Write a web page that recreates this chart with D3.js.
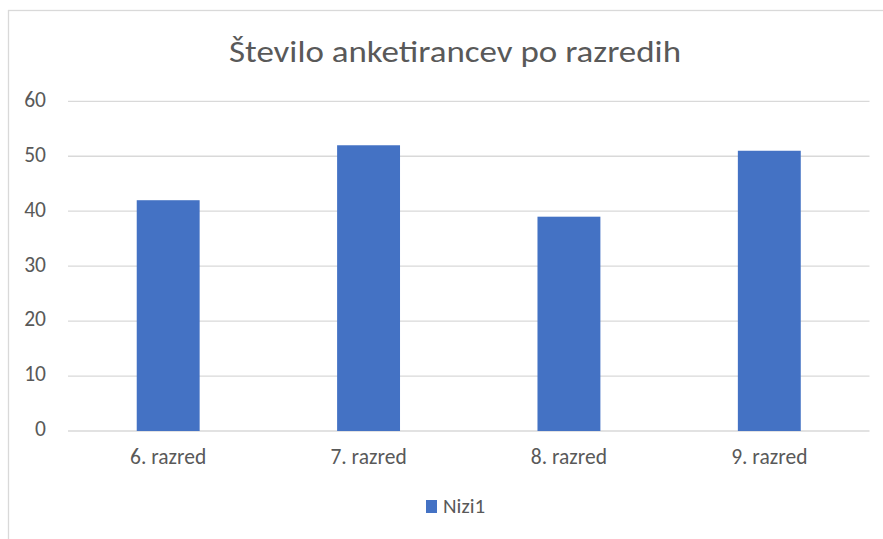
<!DOCTYPE html>
<html>
<head>
<meta charset="utf-8">
<script src="https://cdn.jsdelivr.net/npm/d3@7"></script>
<style>
  html, body { margin: 0; padding: 0; background: #ffffff; }
  svg { display: block; }
  text { font-family: "Carlito", "Noto Sans", "Open Sans", sans-serif; }
</style>
</head>
<body>
<svg id="chart" width="883" height="539"></svg>
<script>
const title = "Število anketirancev po razredih";
const categories = ["6. razred", "7. razred", "8. razred", "9. razred"];
const seriesName = "Nizi1";
const values = [42, 52, 39, 51];
const yTicks = [0, 10, 20, 30, 40, 50, 60];

const svg = d3.select("#chart");
const textColor = "#595959";
const gridColor = "#d9d9d9";
const barColor = "#4472c4";
const fontStack = '"Carlito", "Noto Sans", "Open Sans", sans-serif';

// chart border
svg.append("rect")
  .attr("x", 8.5).attr("y", 10.5)
  .attr("width", 960).attr("height", 700)
  .attr("fill", "#fff").attr("stroke", gridColor).attr("stroke-width", 1.3);

const plot = { left: 68, right: 869.5, top: 101.3, bottom: 431 };
const chartCenter = 455;

const x = d3.scaleBand()
  .domain(categories)
  .range([plot.left, plot.right])
  .paddingInner(0.686)
  .paddingOuter(0.343);

const y = d3.scaleLinear()
  .domain([0, 60])
  .range([plot.bottom, plot.top]);

// gridlines
svg.append("g")
  .selectAll("line")
  .data(yTicks)
  .join("line")
  .attr("x1", plot.left).attr("x2", plot.right)
  .attr("y1", d => y(d)).attr("y2", d => y(d))
  .attr("stroke", gridColor).attr("stroke-width", 1.3);

// y axis labels
const yAxis = d3.axisLeft(y).tickValues(yTicks).tickSize(0).tickPadding(0);
const gy = svg.append("g").attr("transform", `translate(46,-2)`).call(yAxis);
gy.select(".domain").remove();
gy.selectAll("text")
  .attr("fill", textColor)
  .style("font-size", "21.5px")
  .style("font-family", fontStack);

// bars
svg.append("g")
  .selectAll("rect")
  .data(values)
  .join("rect")
  .attr("x", (d, i) => x(categories[i]))
  .attr("width", x.bandwidth())
  .attr("y", d => y(d))
  .attr("height", d => y(0) - y(d))
  .attr("fill", barColor);

// x axis labels
const xAxis = d3.axisBottom(x).tickSize(0).tickPadding(0);
const gx = svg.append("g").attr("transform", `translate(0,${plot.bottom})`).call(xAxis);
gx.select(".domain").remove();
gx.selectAll("text")
  .attr("fill", textColor)
  .attr("dy", null)
  .attr("y", 33)
  .style("font-size", "21.5px")
  .style("font-family", fontStack);

// title
svg.append("text")
  .attr("x", chartCenter).attr("y", 62)
  .attr("text-anchor", "middle")
  .attr("fill", textColor)
  .attr("textLength", 452)
  .attr("lengthAdjust", "spacingAndGlyphs")
  .style("font-size", "31px")
  .text(title);

// legend
const lg = svg.append("g").attr("transform", `translate(426,500)`);
lg.append("rect").attr("x", 0).attr("y", 0).attr("width", 11).attr("height", 13).attr("fill", barColor);
lg.append("text").attr("x", 17).attr("y", 13)
  .attr("fill", textColor).style("font-size", "21px").text(seriesName);
</script>
</body>
</html>
